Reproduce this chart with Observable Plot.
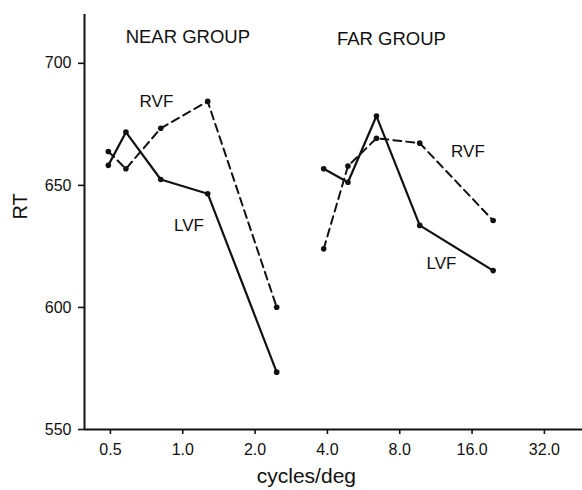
<!DOCTYPE html>
<html>
<head>
<meta charset="utf-8">
<script src="https://cdn.jsdelivr.net/npm/d3@7"></script>
<script src="https://cdn.jsdelivr.net/npm/@observablehq/plot@0.6"></script>
<style>
  html, body { margin: 0; padding: 0; background: #fff; }
  #chart { width: 582px; height: 490px; }
</style>
</head>
<body>
<div id="chart"></div>
<script>
// ---- data ----
const nearFreq = [0.49, 0.58, 0.81, 1.27, 2.46];
const farFreq  = [3.86, 4.87, 6.4, 9.69, 19.58];
const nearLVF = [658.2, 671.8, 652.4, 646.6, 573.5];
const nearRVF = [663.9, 656.8, 673.4, 684.4, 600.1];
const farLVF  = [656.8, 651.3, 678.4, 633.6, 615.1];
const farRVF  = [624.0, 657.9, 669.3, 667.3, 635.6];

const xTicks = [0.5, 1, 2, 4, 8, 16, 32];
const yTicks = [550, 600, 650, 700];
const xDomain = [0.39, 46.1];
const yDomain = [550, 720];

// annotation texts (data coordinates)
const groupTitles = [
  {text: "NEAR GROUP", x: 1.05, y: 710.8},
  {text: "FAR GROUP",  x: 7.39, y: 710.0}
];
const seriesLabels = [
  {text: "RVF", x: 0.777, y: 684.4},
  {text: "LVF", x: 1.061, y: 633.6},
  {text: "RVF", x: 15.38, y: 663.7},
  {text: "LVF", x: 11.93, y: 617.8}
];

// ---- build rows ----
const rows = [];
const add = (group, field, xs, ys) =>
  xs.forEach((f, i) => rows.push({group, field, freq: f, rt: ys[i]}));
add("near", "LVF", nearFreq, nearLVF);
add("near", "RVF", nearFreq, nearRVF);
add("far",  "LVF", farFreq,  farLVF);
add("far",  "RVF", farFreq,  farRVF);
const lvf = rows.filter(d => d.field === "LVF");
const rvf = rows.filter(d => d.field === "RVF");

const font = "'Liberation Sans', Arial, Helvetica, sans-serif";

const chart = Plot.plot({
  width: 582,
  height: 490,
  marginLeft: 84,
  marginRight: 0,
  marginTop: 14,
  marginBottom: 61,
  style: {fontFamily: font, background: "white", color: "#111"},
  x: {type: "log", base: 2, domain: xDomain, ticks: xTicks, tickFormat: d => d.toFixed(1), label: null},
  y: {domain: yDomain, ticks: yTicks, label: null},
  marks: [
    Plot.axisX({ticks: xTicks, tickFormat: d => d.toFixed(1), tickSize: 5, tickPadding: 9, fontSize: 16, strokeWidth: 1.6, label: null}),
    Plot.axisY({ticks: yTicks, tickSize: 6, tickPadding: 7, fontSize: 16, strokeWidth: 1.6, label: null}),
    Plot.ruleY([yDomain[0]], {stroke: "#111", strokeWidth: 2}),
    Plot.ruleX([xDomain[0]], {stroke: "#111", strokeWidth: 2}),
    Plot.line(lvf, {x: "freq", y: "rt", z: "group", stroke: "#111", strokeWidth: 2.2}),
    Plot.line(rvf, {x: "freq", y: "rt", z: "group", stroke: "#111", strokeWidth: 2, strokeDasharray: "8,5"}),
    Plot.dot(rows, {x: "freq", y: "rt", r: 2.8, fill: "#111", stroke: "none"}),
    Plot.text(groupTitles, {x: "x", y: "y", text: "text", fontSize: 18.5, fill: "#111", textAnchor: "middle", lineAnchor: "middle"}),
    Plot.text(seriesLabels, {x: "x", y: "y", text: "text", fontSize: 17, fill: "#111", textAnchor: "middle", lineAnchor: "middle"}),
    Plot.text(["cycles/deg"], {x: 3.27, frameAnchor: "bottom", dy: 47, text: d => d, fontSize: 21, fill: "#111", textAnchor: "middle", lineAnchor: "middle"}),
    Plot.text(["RT"], {y: 641.4, frameAnchor: "left", dx: -64, text: d => d, rotate: -90, fontSize: 20, fill: "#111", textAnchor: "middle", lineAnchor: "middle"})
  ]
});
document.getElementById("chart").appendChild(chart);
</script>
</body>
</html>
